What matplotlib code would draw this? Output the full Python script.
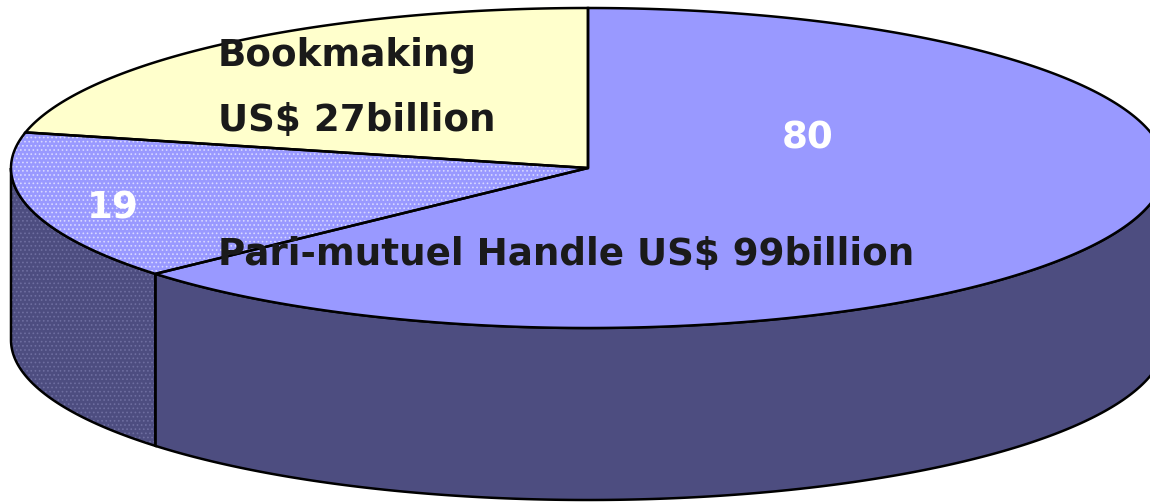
import numpy as np
import matplotlib
matplotlib.use("Agg")
import matplotlib.pyplot as plt
from matplotlib.patches import Polygon

# Data
values = [80, 19, 27]
slice_names = ["Pari-mutuel", "Off-track", "Bookmaking"]
top_colors = ["#9999FF", "#9999FF", "#FFFFCC"]
side_colors = ["#4D4D80", "#4D4D80", "#808066"]
patterned = [False, True, False]
value_labels = ["80", "19", None]
text_labels = ["Pari-mutuel Handle US$ 99billion", "Bookmaking", "US$ 27billion"]

W, H = 1150, 504
fig = plt.figure(figsize=(W / 100, H / 100), dpi=100)
ax = fig.add_axes([0, 0, 1, 1])
ax.set_xlim(0, W)
ax.set_ylim(H, 0)
ax.axis("off")

cx, cy, a, b, depth = 588, 168, 577, 160, 172
plt.rcParams["hatch.linewidth"] = 0.7


def pt(theta_deg, dz=0):
    t = np.radians(theta_deg)
    return cx + a * np.cos(t), cy - b * np.sin(t) + dz


total = sum(values)
start = 90.0
angles = []
for v in values:
    end = start - 360.0 * v / total
    angles.append((start, end))
    start = end

# side walls (front half: theta in [-180, 0])
for i, (s, e) in enumerate(angles):
    for shift in (0, -360, 360):
        h2, l2 = s + shift, e + shift
        f_hi, f_lo = min(h2, 0), max(l2, -180)
        if f_hi > f_lo:
            th = np.linspace(f_hi, f_lo, 200)
            top = [pt(t) for t in th]
            bot = [pt(t, depth) for t in th[::-1]]
            kw = dict(closed=True, facecolor=side_colors[i], zorder=1)
            if patterned[i]:
                ax.add_patch(Polygon(top + bot, edgecolor="#6e6ea0", lw=0,
                                     hatch="....", **kw))
            else:
                ax.add_patch(Polygon(top + bot, edgecolor="none", lw=0, **kw))
            ax.add_patch(Polygon(top + bot, closed=True, fill=False,
                                 edgecolor="black", lw=1.8, zorder=2))

# top faces
for i, (s, e) in enumerate(angles):
    th = np.linspace(s, e, 300)
    poly = [(cx, cy)] + [pt(t) for t in th]
    if patterned[i]:
        ax.add_patch(Polygon(poly, closed=True, facecolor=top_colors[i],
                             edgecolor="#d8d8ff", lw=0, hatch="....", zorder=3))
    else:
        ax.add_patch(Polygon(poly, closed=True, facecolor=top_colors[i],
                             edgecolor="none", lw=0, zorder=3))
    ax.add_patch(Polygon(poly, closed=True, fill=False, edgecolor="black",
                         lw=1.8, zorder=4))

font = dict(family="DejaVu Sans", fontweight="bold", fontsize=26.8)
ax.text(808, 138, value_labels[0], color="white", ha="center", va="center",
        zorder=6, **font)
ax.text(113, 208, value_labels[1], color="white", ha="center", va="center",
        zorder=6, **font)
ax.text(218, 254, text_labels[0], color="#1a1a1a", ha="left", va="center",
        zorder=6, **font)
ax.text(218, 55, text_labels[1], color="#1a1a1a", ha="left", va="center",
        zorder=6, **font)
ax.text(218, 121, text_labels[2], color="#1a1a1a", ha="left", va="center",
        zorder=6, **font)

fig.savefig("out.png", dpi=100)
